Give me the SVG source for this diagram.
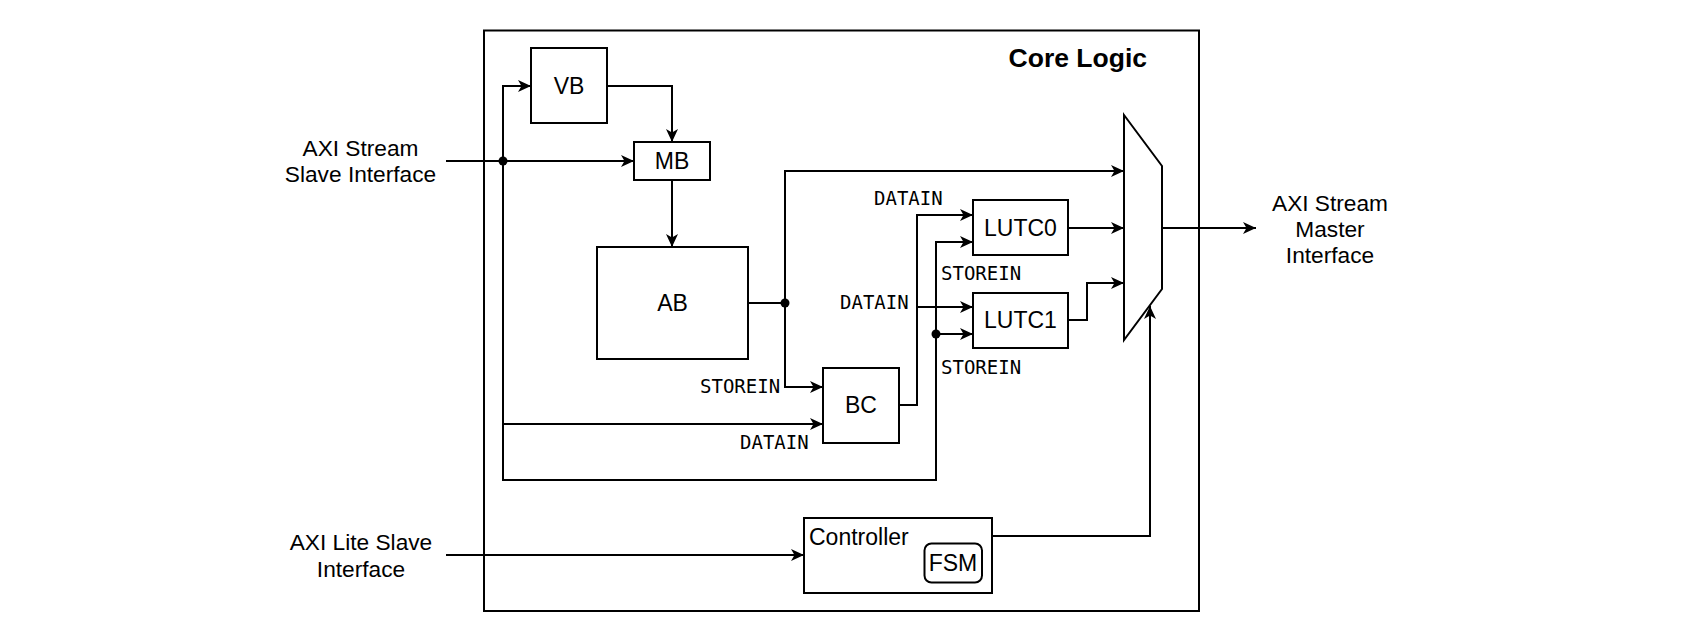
<svg xmlns="http://www.w3.org/2000/svg" width="1693" height="635" viewBox="0 0 1693 635">
<defs>
<marker id="arr" markerUnits="userSpaceOnUse" markerWidth="14" markerHeight="14" refX="13" refY="6" orient="auto">
<path d="M0,0 L13,6 L0,12 L3.5,6 Z" fill="#000"/>
</marker>
<style>
.box{fill:#fff;stroke:#000;stroke-width:2}
.ln{fill:none;stroke:#000;stroke-width:2}
.ar{fill:none;stroke:#000;stroke-width:2;marker-end:url(#arr)}
.t{font-family:"Liberation Sans",Arial,sans-serif;font-size:23px;fill:#000;text-anchor:middle}
.o{font-family:"Liberation Sans",Arial,sans-serif;font-size:22.7px;fill:#000;text-anchor:middle}
.m{font-family:"DejaVu Sans Mono",monospace;font-size:19px;fill:#000}
.dot{fill:#000}
</style>
</defs>
<rect width="1693" height="635" fill="#fff"/>
<g id="core">
<rect x="484" y="30.5" width="715" height="580.5" fill="#fff" stroke="#000" stroke-width="2"/>
<text x="1147" y="67" style="font-family:'Liberation Sans',Arial,sans-serif;font-size:26.5px;font-weight:bold;text-anchor:end">Core Logic</text>
</g>
<g id="axi-stream-slave"><text class="o" x="360.5" y="156">AXI Stream</text><text class="o" x="360.5" y="181.5">Slave Interface</text></g>
<g id="axi-lite-slave"><text class="o" x="361" y="550">AXI Lite Slave</text><text class="o" x="361" y="576.5">Interface</text></g>
<g id="axi-stream-master"><text class="o" x="1330" y="210.5">AXI Stream</text><text class="o" x="1330" y="236.5">Master</text><text class="o" x="1330" y="263">Interface</text></g>
<g id="vb"><rect class="box" x="531" y="48" width="76" height="75"/><text class="t" x="569" y="94">VB</text></g>
<g id="mb"><rect class="box" x="634" y="142" width="76" height="38"/><text class="t" x="672" y="169">MB</text></g>
<g id="ab"><rect class="box" x="597" y="247" width="151" height="112"/><text class="t" x="672.5" y="311">AB</text></g>
<g id="bc"><rect class="box" x="823" y="368" width="76" height="75"/><text class="t" x="861" y="413">BC</text></g>
<g id="lutc0"><rect class="box" x="973" y="200" width="95" height="55"/><text class="t" x="1020.5" y="236">LUTC0</text></g>
<g id="lutc1"><rect class="box" x="973" y="293" width="95" height="55"/><text class="t" x="1020.5" y="328">LUTC1</text></g>
<g id="mux"><path class="box" d="M1124,115 L1162,166 L1162,289 L1124,340 Z"/></g>
<g id="controller"><rect class="box" x="804" y="518" width="188" height="75"/><text class="t" x="809" y="544.5" style="text-anchor:start">Controller</text>
<rect class="box" x="924.5" y="543.5" width="57.5" height="39" rx="7"/><text class="t" x="953" y="571">FSM</text></g>
<g id="connectors">
<path class="ar" d="M446,161 H634"/>
<path class="ar" d="M503,161 V86 H531"/>
<path class="ar" d="M503,161 V480 H936 V242 H973"/>
<path class="ar" d="M503,424 H823"/>
<path class="ar" d="M936,334 H973"/>
<path class="ar" d="M607,86 H672 V142"/>
<path class="ar" d="M672,180 V247"/>
<path class="ln" d="M748,303 H785"/>
<path class="ar" d="M785,303 V171 H1124"/>
<path class="ar" d="M785,303 V387 H823"/>
<path class="ar" d="M899,405 H917 V215 H973"/>
<path class="ar" d="M917,307 H973"/>
<path class="ar" d="M1068,228 H1124"/>
<path class="ar" d="M1068,320 H1087 V283 H1124"/>
<path class="ar" d="M1162,228 H1256"/>
<path class="ar" d="M992,536 H1150 V306"/>
<path class="ar" d="M446,555 H804"/>
<circle class="dot" cx="503" cy="161" r="4.5"/>
<circle class="dot" cx="785" cy="303" r="4.5"/>
<circle class="dot" cx="936" cy="334" r="4.5"/>
<text class="m" x="874" y="205">DATAIN</text>
<text class="m" x="941" y="280">STOREIN</text>
<text class="m" x="840" y="309">DATAIN</text>
<text class="m" x="941" y="374">STOREIN</text>
<text class="m" x="700" y="393">STOREIN</text>
<text class="m" x="740" y="449">DATAIN</text>
</g>
</svg>
